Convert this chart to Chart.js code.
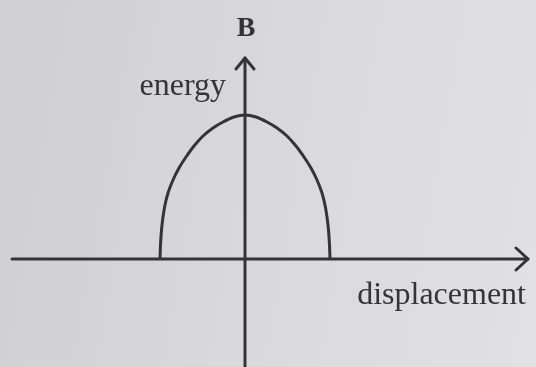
<!DOCTYPE html>
<html><head><meta charset="utf-8">
<script src="https://cdn.jsdelivr.net/npm/chart.js@4"></script>
<style>
html,body{margin:0;padding:0;width:536px;height:367px;overflow:hidden;}
body{background:linear-gradient(100deg,#cfcfd1 0%,#d8d8da 45%,#e1e1e3 100%);}
#wrap{position:absolute;left:0;top:0;width:536px;height:367px;}
</style></head><body>
<div id="wrap"><canvas id="c" width="536" height="367"></canvas></div>
<script>
// displacement (relative to origin) and energy values
const displacement = [-85,-84.5,-83.5,-82,-80,-77,-72,-66,-59,-51,-42,-32,-22,-11,0,11,22,32,42,51,59,66,72,77,80,82,83.5,84.5,85];
const energy       = [0,14,29,42,54,66,79,91,102,113,123,131,137,142,144,142,137,131,123,113,102,91,79,66,54,42,29,14,0];
const chartTitle = 'B';
const yLabel = 'energy';
const xLabel = 'displacement';
const xRange = [-245, 291];
const yRange = [-108, 259];

const ink = '#343436';
const axesPlugin = {
  id:'axesArrows',
  beforeDatasetsDraw(chart){
    const {ctx, scales:{x,y}, chartArea:a} = chart;
    const x0 = x.getPixelForValue(0), y0 = y.getPixelForValue(0);
    ctx.save();
    ctx.strokeStyle = ink; ctx.lineWidth = 3; ctx.lineCap='round'; ctx.lineJoin='round';
    // horizontal axis
    const hx1 = a.left + 12, hx2 = a.right - 8;
    ctx.beginPath(); ctx.moveTo(hx1,y0); ctx.lineTo(hx2,y0); ctx.stroke();
    ctx.beginPath(); ctx.moveTo(hx2-12,y0-11); ctx.lineTo(hx2,y0); ctx.lineTo(hx2-12,y0+11); ctx.stroke();
    // vertical axis
    const vy1 = a.top + 58;
    ctx.beginPath(); ctx.moveTo(x0,a.bottom); ctx.lineTo(x0,vy1); ctx.stroke();
    ctx.beginPath(); ctx.moveTo(x0-9,vy1+11); ctx.lineTo(x0,vy1); ctx.lineTo(x0+9,vy1+11); ctx.stroke();
    // texts
    ctx.fillStyle = ink;
    ctx.textBaseline = 'alphabetic';
    ctx.font = 'bold 28px "Liberation Serif", serif';
    ctx.textAlign = 'center';
    ctx.fillText(chartTitle, x0 + 1, 36);
    ctx.font = '32px "Liberation Serif", serif';
    ctx.textAlign = 'right';
    ctx.fillText(yLabel, x0 - 19, 95);
    ctx.fillText(xLabel, a.right - 10, y0 + 45);
    ctx.restore();
  }
};

new Chart(document.getElementById('c'), {
  type:'line',
  data:{datasets:[{
    data: displacement.map((d,i)=>({x:d,y:energy[i]})),
    borderColor: ink, borderWidth: 3, pointRadius: 0,
    tension: 0.3, fill:false
  }]},
  options:{
    responsive:false, animation:false,
    layout:{padding:0},
    plugins:{legend:{display:false}, tooltip:{enabled:false}, title:{display:false}},
    scales:{
      x:{type:'linear', min:xRange[0], max:xRange[1], display:false},
      y:{type:'linear', min:yRange[0], max:yRange[1], display:false}
    }
  },
  plugins:[axesPlugin]
});
</script>
</body></html>
